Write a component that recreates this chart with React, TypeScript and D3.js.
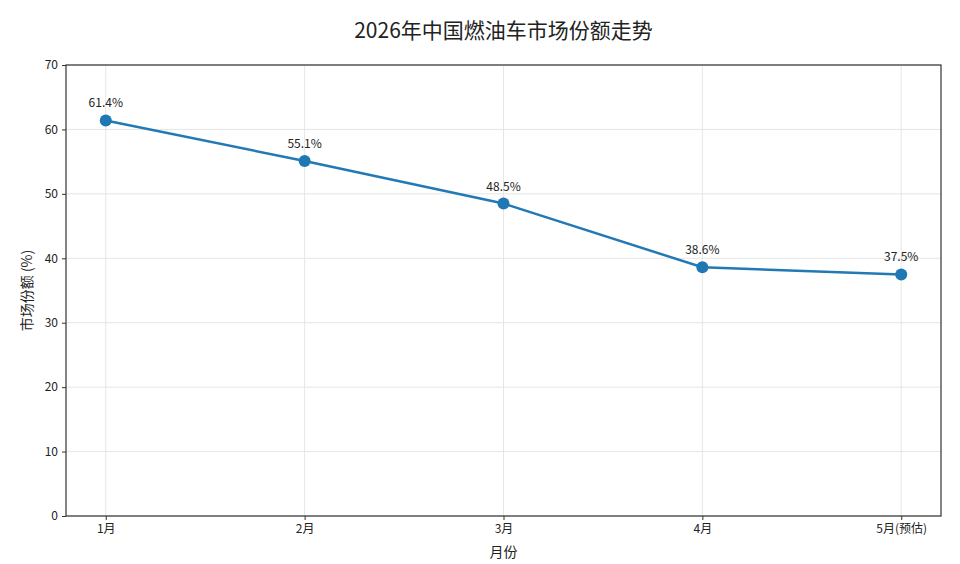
import React, { useRef, useEffect } from "react";
import * as d3 from "d3";

const months = ["1月", "2月", "3月", "4月", "5月(预估)"];
const shares = [61.4, 55.1, 48.5, 38.6, 37.5];
const yTicks = [0, 10, 20, 30, 40, 50, 60, 70];

const FONT = "'Noto Sans CJK SC', 'Noto Sans', sans-serif";

const App: React.FC = () => {
  const svgRef = useRef<SVGSVGElement | null>(null);

  useEffect(() => {
    if (!svgRef.current) return;
    const width = 960;
    const height = 564;
    const margin = { top: 65, right: 19, bottom: 48, left: 66 };
    const innerW = width - margin.left - margin.right;
    const innerH = height - margin.top - margin.bottom;

    const svg = d3.select(svgRef.current);
    svg.selectAll("*").remove();

    // Title
    svg
      .append("text")
      .attr("x", margin.left + innerW / 2)
      .attr("y", 38)
      .attr("text-anchor", "middle")
      .attr("font-family", FONT)
      .attr("font-size", 21)
      .attr("fill", "#222")
      .text("2026年中国燃油车市场份额走势");

    const g = svg
      .append("g")
      .attr("transform", `translate(${margin.left},${margin.top})`);

    const x = d3.scaleLinear().domain([-0.2, months.length - 1 + 0.2]).range([0, innerW]);
    const y = d3.scaleLinear().domain([0, 70]).range([innerH, 0]);

    // Grid
    g.append("g")
      .selectAll("line")
      .data(yTicks)
      .enter()
      .append("line")
      .attr("x1", 0)
      .attr("x2", innerW)
      .attr("y1", (d) => y(d))
      .attr("y2", (d) => y(d))
      .attr("stroke", "#e6e6e6")
      .attr("stroke-width", 1);
    g.append("g")
      .selectAll("line")
      .data(months)
      .enter()
      .append("line")
      .attr("x1", (_d, i) => x(i))
      .attr("x2", (_d, i) => x(i))
      .attr("y1", 0)
      .attr("y2", innerH)
      .attr("stroke", "#e6e6e6")
      .attr("stroke-width", 1);

    // Axes
    const xAxis = g
      .append("g")
      .attr("transform", `translate(0,${innerH})`)
      .call(
        d3
          .axisBottom(x)
          .tickValues(d3.range(months.length))
          .tickFormat((d) => months[d as number])
          .tickSizeOuter(0)
          .tickSize(4)
          .tickPadding(4)
      );
    const yAxis = g
      .append("g")
      .call(d3.axisLeft(y).tickValues(yTicks).tickSizeOuter(0).tickSize(4).tickPadding(4));
    [xAxis, yAxis].forEach((a) => {
      a.select(".domain").remove();
      a.selectAll("text").attr("font-family", FONT).attr("font-size", 12).attr("fill", "#222");
      a.selectAll("line").attr("stroke", "#333");
    });

    // Frame
    g.append("rect")
      .attr("width", innerW)
      .attr("height", innerH)
      .attr("fill", "none")
      .attr("stroke", "#333")
      .attr("stroke-width", 1.2);

    // Axis titles
    g.append("text")
      .attr("x", innerW / 2)
      .attr("y", innerH + 41)
      .attr("text-anchor", "middle")
      .attr("font-family", FONT)
      .attr("font-size", 14)
      .attr("fill", "#222")
      .text("月份");
    g.append("text")
      .attr("transform", `translate(-34,${innerH / 2}) rotate(-90)`)
      .attr("text-anchor", "middle")
      .attr("font-family", FONT)
      .attr("font-size", 14)
      .attr("fill", "#222")
      .text("市场份额 (%)");

    // Line
    const line = d3
      .line<number>()
      .x((_d, i) => x(i))
      .y((d) => y(d));
    g.append("path")
      .datum(shares)
      .attr("d", line)
      .attr("fill", "none")
      .attr("stroke", "#2279b5")
      .attr("stroke-width", 2.5);

    g.append("g")
      .selectAll("circle")
      .data(shares)
      .enter()
      .append("circle")
      .attr("cx", (_d, i) => x(i))
      .attr("cy", (d) => y(d))
      .attr("r", 6)
      .attr("fill", "#1f77b4");

    g.append("g")
      .selectAll("text")
      .data(shares)
      .enter()
      .append("text")
      .attr("x", (_d, i) => x(i))
      .attr("y", (d) => y(d) - 13)
      .attr("text-anchor", "middle")
      .attr("font-family", FONT)
      .attr("font-size", 12)
      .attr("fill", "#222")
      .text((d) => `${d.toFixed(1)}%`);
  }, []);

  return (
    <svg
      ref={svgRef}
      width={960}
      height={564}
      style={{ position: "absolute", left: 0, top: 0, background: "#fff" }}
    />
  );
};

export default App;
